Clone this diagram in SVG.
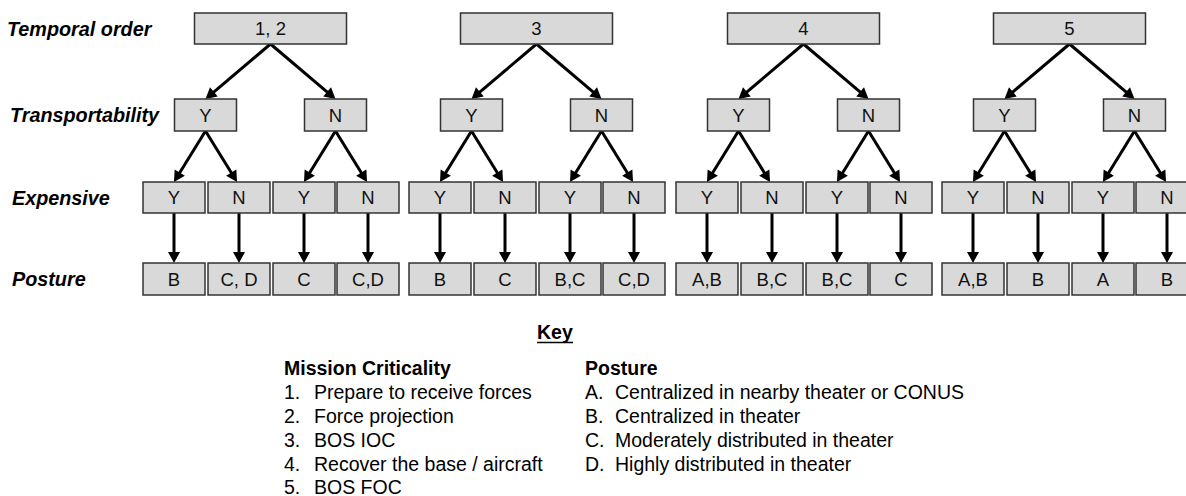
<svg xmlns="http://www.w3.org/2000/svg" width="1186" height="496" viewBox="0 0 1186 496">
  <style>
    .box { fill: #d9d9d9; stroke: #333333; stroke-width: 1.5; }
    .bt { font-family: "Liberation Sans", Arial, sans-serif; font-size: 18.5px; fill: #111111; text-anchor: middle; }
    .row { font-family: "Liberation Sans", Arial, sans-serif; font-size: 19.8px; font-weight: bold; font-style: italic; fill: #000000; }
    .kh { font-family: "Liberation Sans", Arial, sans-serif; font-size: 19.5px; font-weight: bold; fill: #000000; }
    .kt { font-family: "Liberation Sans", Arial, sans-serif; font-size: 19.5px; fill: #000000; }
    .arrow { fill: none; stroke: #000000; stroke-width: 3; marker-end: url(#head); }
  </style>
  <defs>
    <marker id="head" markerUnits="userSpaceOnUse" markerWidth="14" markerHeight="14" refX="0" refY="0" orient="auto" overflow="visible">
      <path d="M-6,-6 L5,0 L-6,6 Z" fill="#000000"/>
    </marker>
  </defs>
  <rect width="1186" height="496" fill="#ffffff"/>

  <!-- row labels -->
  <g id="row-labels">
    <text class="row" x="7" y="36">Temporal order</text>
    <text class="row" x="10" y="122">Transportability</text>
    <text class="row" x="12" y="205">Expensive</text>
    <text class="row" x="12" y="286">Posture</text>
  </g>

  <!-- connectors of the four trees -->
  <g id="connectors">
    <g transform="translate(143,0)">
      <path class="arrow" d="M127.5,44 L66.3,95.8"/>
      <path class="arrow" d="M127.5,44 L188.7,95.8"/>
      <path class="arrow" d="M62.5,131 L33.6,177.7"/>
      <path class="arrow" d="M62.5,131 L91.4,177.7"/>
      <path class="arrow" d="M192.5,131 L163.6,177.7"/>
      <path class="arrow" d="M192.5,131 L221.4,177.7"/>
      <path class="arrow" d="M31,213 V258"/>
      <path class="arrow" d="M96,213 V258"/>
      <path class="arrow" d="M161,213 V258"/>
      <path class="arrow" d="M225,213 V258"/>
    </g>
    <g transform="translate(409,0)">
      <path class="arrow" d="M127.5,44 L66.3,95.8"/>
      <path class="arrow" d="M127.5,44 L188.7,95.8"/>
      <path class="arrow" d="M62.5,131 L33.6,177.7"/>
      <path class="arrow" d="M62.5,131 L91.4,177.7"/>
      <path class="arrow" d="M192.5,131 L163.6,177.7"/>
      <path class="arrow" d="M192.5,131 L221.4,177.7"/>
      <path class="arrow" d="M31,213 V258"/>
      <path class="arrow" d="M96,213 V258"/>
      <path class="arrow" d="M161,213 V258"/>
      <path class="arrow" d="M225,213 V258"/>
    </g>
    <g transform="translate(676,0)">
      <path class="arrow" d="M127.5,44 L66.3,95.8"/>
      <path class="arrow" d="M127.5,44 L188.7,95.8"/>
      <path class="arrow" d="M62.5,131 L33.6,177.7"/>
      <path class="arrow" d="M62.5,131 L91.4,177.7"/>
      <path class="arrow" d="M192.5,131 L163.6,177.7"/>
      <path class="arrow" d="M192.5,131 L221.4,177.7"/>
      <path class="arrow" d="M31,213 V258"/>
      <path class="arrow" d="M96,213 V258"/>
      <path class="arrow" d="M161,213 V258"/>
      <path class="arrow" d="M225,213 V258"/>
    </g>
    <g transform="translate(942,0)">
      <path class="arrow" d="M127.5,44 L66.3,95.8"/>
      <path class="arrow" d="M127.5,44 L188.7,95.8"/>
      <path class="arrow" d="M62.5,131 L33.6,177.7"/>
      <path class="arrow" d="M62.5,131 L91.4,177.7"/>
      <path class="arrow" d="M192.5,131 L163.6,177.7"/>
      <path class="arrow" d="M192.5,131 L221.4,177.7"/>
      <path class="arrow" d="M31,213 V258"/>
      <path class="arrow" d="M96,213 V258"/>
      <path class="arrow" d="M161,213 V258"/>
      <path class="arrow" d="M225,213 V258"/>
    </g>
  </g>

  <!-- tree 1: temporal order 1, 2 -->
  <g id="tree1" transform="translate(143,0)">
    <g id="t1-root"><rect class="box" x="51.5" y="13" width="152" height="31"/><text class="bt" x="127.5" y="35">1, 2</text></g>
    <g id="t1-ty"><rect class="box" x="31.5" y="99" width="62" height="32"/><text class="bt" x="62.5" y="121.5">Y</text></g>
    <g id="t1-tn"><rect class="box" x="161.5" y="99" width="62" height="32"/><text class="bt" x="192.5" y="121.5">N</text></g>
    <g id="t1-e1"><rect class="box" x="0" y="182" width="62" height="31"/><text class="bt" x="31" y="204">Y</text></g>
    <g id="t1-e2"><rect class="box" x="65" y="182" width="62" height="31"/><text class="bt" x="96" y="204">N</text></g>
    <g id="t1-e3"><rect class="box" x="130" y="182" width="62" height="31"/><text class="bt" x="161" y="204">Y</text></g>
    <g id="t1-e4"><rect class="box" x="194" y="182" width="62" height="31"/><text class="bt" x="225" y="204">N</text></g>
    <g id="t1-p1"><rect class="box" x="0" y="263" width="62" height="32"/><text class="bt" x="31" y="285.5">B</text></g>
    <g id="t1-p2"><rect class="box" x="65" y="263" width="62" height="32"/><text class="bt" x="96" y="285.5">C, D</text></g>
    <g id="t1-p3"><rect class="box" x="130" y="263" width="62" height="32"/><text class="bt" x="161" y="285.5">C</text></g>
    <g id="t1-p4"><rect class="box" x="194" y="263" width="62" height="32"/><text class="bt" x="225" y="285.5">C,D</text></g>
  </g>

  <!-- tree 2: temporal order 3 -->
  <g id="tree2" transform="translate(409,0)">
    <g id="t2-root"><rect class="box" x="51.5" y="13" width="152" height="31"/><text class="bt" x="127.5" y="35">3</text></g>
    <g id="t2-ty"><rect class="box" x="31.5" y="99" width="62" height="32"/><text class="bt" x="62.5" y="121.5">Y</text></g>
    <g id="t2-tn"><rect class="box" x="161.5" y="99" width="62" height="32"/><text class="bt" x="192.5" y="121.5">N</text></g>
    <g id="t2-e1"><rect class="box" x="0" y="182" width="62" height="31"/><text class="bt" x="31" y="204">Y</text></g>
    <g id="t2-e2"><rect class="box" x="65" y="182" width="62" height="31"/><text class="bt" x="96" y="204">N</text></g>
    <g id="t2-e3"><rect class="box" x="130" y="182" width="62" height="31"/><text class="bt" x="161" y="204">Y</text></g>
    <g id="t2-e4"><rect class="box" x="194" y="182" width="62" height="31"/><text class="bt" x="225" y="204">N</text></g>
    <g id="t2-p1"><rect class="box" x="0" y="263" width="62" height="32"/><text class="bt" x="31" y="285.5">B</text></g>
    <g id="t2-p2"><rect class="box" x="65" y="263" width="62" height="32"/><text class="bt" x="96" y="285.5">C</text></g>
    <g id="t2-p3"><rect class="box" x="130" y="263" width="62" height="32"/><text class="bt" x="161" y="285.5">B,C</text></g>
    <g id="t2-p4"><rect class="box" x="194" y="263" width="62" height="32"/><text class="bt" x="225" y="285.5">C,D</text></g>
  </g>

  <!-- tree 3: temporal order 4 -->
  <g id="tree3" transform="translate(676,0)">
    <g id="t3-root"><rect class="box" x="51.5" y="13" width="152" height="31"/><text class="bt" x="127.5" y="35">4</text></g>
    <g id="t3-ty"><rect class="box" x="31.5" y="99" width="62" height="32"/><text class="bt" x="62.5" y="121.5">Y</text></g>
    <g id="t3-tn"><rect class="box" x="161.5" y="99" width="62" height="32"/><text class="bt" x="192.5" y="121.5">N</text></g>
    <g id="t3-e1"><rect class="box" x="0" y="182" width="62" height="31"/><text class="bt" x="31" y="204">Y</text></g>
    <g id="t3-e2"><rect class="box" x="65" y="182" width="62" height="31"/><text class="bt" x="96" y="204">N</text></g>
    <g id="t3-e3"><rect class="box" x="130" y="182" width="62" height="31"/><text class="bt" x="161" y="204">Y</text></g>
    <g id="t3-e4"><rect class="box" x="194" y="182" width="62" height="31"/><text class="bt" x="225" y="204">N</text></g>
    <g id="t3-p1"><rect class="box" x="0" y="263" width="62" height="32"/><text class="bt" x="31" y="285.5">A,B</text></g>
    <g id="t3-p2"><rect class="box" x="65" y="263" width="62" height="32"/><text class="bt" x="96" y="285.5">B,C</text></g>
    <g id="t3-p3"><rect class="box" x="130" y="263" width="62" height="32"/><text class="bt" x="161" y="285.5">B,C</text></g>
    <g id="t3-p4"><rect class="box" x="194" y="263" width="62" height="32"/><text class="bt" x="225" y="285.5">C</text></g>
  </g>

  <!-- tree 4: temporal order 5 -->
  <g id="tree4" transform="translate(942,0)">
    <g id="t4-root"><rect class="box" x="51.5" y="13" width="152" height="31"/><text class="bt" x="127.5" y="35">5</text></g>
    <g id="t4-ty"><rect class="box" x="31.5" y="99" width="62" height="32"/><text class="bt" x="62.5" y="121.5">Y</text></g>
    <g id="t4-tn"><rect class="box" x="161.5" y="99" width="62" height="32"/><text class="bt" x="192.5" y="121.5">N</text></g>
    <g id="t4-e1"><rect class="box" x="0" y="182" width="62" height="31"/><text class="bt" x="31" y="204">Y</text></g>
    <g id="t4-e2"><rect class="box" x="65" y="182" width="62" height="31"/><text class="bt" x="96" y="204">N</text></g>
    <g id="t4-e3"><rect class="box" x="130" y="182" width="62" height="31"/><text class="bt" x="161" y="204">Y</text></g>
    <g id="t4-e4"><rect class="box" x="194" y="182" width="62" height="31"/><text class="bt" x="225" y="204">N</text></g>
    <g id="t4-p1"><rect class="box" x="0" y="263" width="62" height="32"/><text class="bt" x="31" y="285.5">A,B</text></g>
    <g id="t4-p2"><rect class="box" x="65" y="263" width="62" height="32"/><text class="bt" x="96" y="285.5">B</text></g>
    <g id="t4-p3"><rect class="box" x="130" y="263" width="62" height="32"/><text class="bt" x="161" y="285.5">A</text></g>
    <g id="t4-p4"><rect class="box" x="194" y="263" width="62" height="32"/><text class="bt" x="225" y="285.5">B</text></g>
  </g>

  <!-- key -->
  <g id="key">
    <text class="kh" x="537" y="339">Key</text>
    <line x1="537" y1="342.5" x2="573" y2="342.5" stroke="#000000" stroke-width="1.5"/>

    <text class="kh" x="284" y="375">Mission Criticality</text>
    <text class="kt" x="284" y="399">1.</text><text class="kt" x="314" y="399">Prepare to receive forces</text>
    <text class="kt" x="284" y="423">2.</text><text class="kt" x="314" y="423">Force projection</text>
    <text class="kt" x="284" y="447">3.</text><text class="kt" x="314" y="447">BOS IOC</text>
    <text class="kt" x="284" y="471">4.</text><text class="kt" x="314" y="471">Recover the base / aircraft</text>
    <text class="kt" x="284" y="494">5.</text><text class="kt" x="314" y="494">BOS FOC</text>

    <text class="kh" x="585" y="375">Posture</text>
    <text class="kt" x="585" y="399">A.</text><text class="kt" x="615" y="399">Centralized in nearby theater or CONUS</text>
    <text class="kt" x="585" y="423">B.</text><text class="kt" x="615" y="423">Centralized in theater</text>
    <text class="kt" x="585" y="447">C.</text><text class="kt" x="615" y="447">Moderately distributed in theater</text>
    <text class="kt" x="585" y="471">D.</text><text class="kt" x="615" y="471">Highly distributed in theater</text>
  </g>
</svg>
